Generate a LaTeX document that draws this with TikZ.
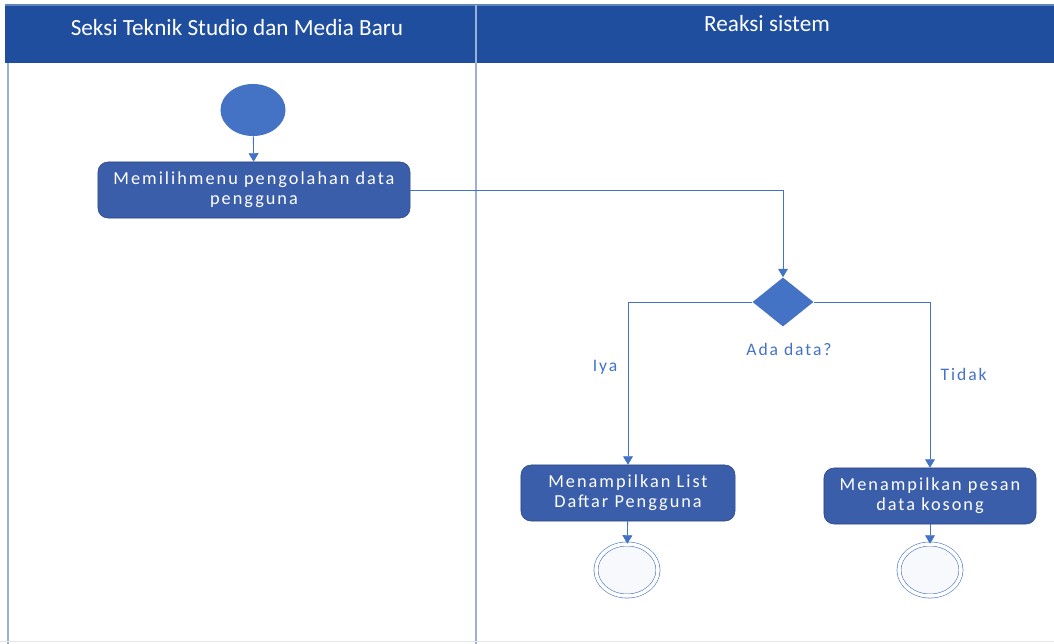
\documentclass[tikz,border=0pt]{standalone}
\usepackage{fontspec}
\setmainfont{Carlito}
\newfontfamily\breit[LetterSpace=11]{Carlito}
\usetikzlibrary{arrows.meta, positioning, shapes.geometric}
\definecolor{kopf}{HTML}{1F4E9F}
\definecolor{aktiv}{HTML}{3B5EAB}
\definecolor{linie}{HTML}{4472C4}
\definecolor{bahn}{HTML}{9AB0DA}

\begin{document}
\begin{tikzpicture}[x=0.025cm, y=-0.025cm,
    aktion/.style={draw=aktiv!75!black, fill=aktiv, rounded corners=0.25cm,
      text=white, align=center, minimum height=1.4cm,
      font=\breit\fontsize{13}{14.5}\selectfont},
    ende/.style={ellipse, draw=linie, double=white, double distance=2.5pt,
      fill=linie!4, minimum width=1.55cm, minimum height=1.3cm},
    fluss/.style={draw=linie, semithick, -{Triangle[width=7pt, length=6pt]}},
    kopftext/.style={text=white, font=\fontsize{16.5}{18}\selectfont},
    beschriftung/.style={text=linie, font=\breit\fontsize{12.5}{14}\selectfont}]

  % Hintergrund und Bahnen
  \fill[white] (0,0) rectangle (1054,644);
  \useasboundingbox (0,0) rectangle (1054,644);
  \fill[kopf] (5,5) rectangle (1054,63);
  \draw[kopf!70!white, thick] (5,5) -- (1054,5);
  \draw[bahn, thick] (8,63) -- (8,644);
  \draw[bahn, thick] (476,5) -- (476,644);
  \draw[black!10] (0,641) -- (1054,641);

  \node[kopftext] (bahnA) at (237,28) {Seksi Teknik Studio dan Media Baru};
  \node[kopftext] (bahnB) at (767,24) {Reaksi sistem};

  % Aktivitaeten
  \node[ellipse, fill=linie, minimum width=1.625cm, minimum height=1.3cm] (start) at (253,110) {};
  \node[aktion, minimum width=7.8cm] (menu) at (254,190)
    {Memilihmenu pengolahan data\\pengguna};
  \node[diamond, fill=linie, aspect=1.25, inner sep=0pt,
    minimum width=1.525cm, minimum height=1.225cm] (cek) at (783,302) {};
  \node[beschriftung] (frage) at (789,349) {Ada data?};
  \node[aktion, minimum width=5.35cm] (liste) at (628,493)
    {Menampilkan List\\Daftar Pengguna};
  \node[aktion, minimum width=5.3cm] (kosong) at (930,496)
    {Menampilkan pesan\\data kosong};
  \node[ende] (endeA) at (627,570) {};
  \node[ende] (endeB) at (930,570) {};

  % Verbindungen
  \draw[fluss] (start) -- (menu);
  \draw[fluss] (menu.east) -| (cek.north);
  \draw[fluss] (cek.west) -| node[beschriftung, pos=0.7, left=4pt] (ja) {Iya} (liste.north);
  \draw[fluss] (cek.east) -| node[beschriftung, pos=0.72, right=4pt] (nein) {Tidak} (kosong.north);
  \draw[fluss] (liste) -- (endeA);
  \draw[fluss] (kosong) -- (endeB);
\end{tikzpicture}
\end{document}
